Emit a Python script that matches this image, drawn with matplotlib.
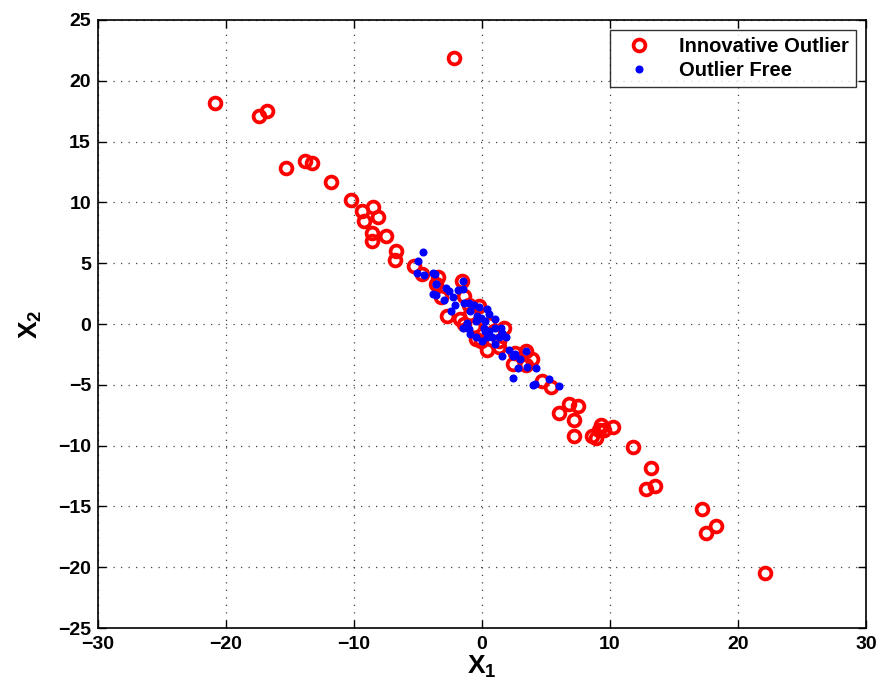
import matplotlib
matplotlib.use("Agg")
import matplotlib.pyplot as plt

plt.rcParams["font.family"] = ["Liberation Sans", "DejaVu Sans"]
plt.rcParams["mathtext.fontset"] = "custom"
plt.rcParams["mathtext.bf"] = "Liberation Sans:bold"
plt.rcParams["mathtext.rm"] = "Liberation Sans:bold"

# Innovative outlier series (red rings)
io_x = [-2.2, -20.85, -17.4, -16.8, -15.3, -13.8, -13.3, -11.8, -10.2, -9.4,
        -8.5, -8.1, -9.2, -8.6, -8.6, -7.5, -6.7, -6.8, -5.3, -4.7,
        -3.4, -3.6, -1.6, -3.2, -1.4, -2.7, -1.7, -0.9, -0.2, -1.0,
        -0.1, 0.4, 1.3, 1.7, 1.3, 2.4, 2.6, 3.4, 3.4, 3.9,
        -0.5, 0.9, -0.6, 0.55, -1.4, 4.7, 5.4, 6.8, 7.5, 6.0,
        7.2, 7.2, 8.6, 8.9, 9.3, 9.55, 9.1, 10.2, 11.8, 13.2,
        12.8, 13.5, 17.2, 17.5, 18.3, 22.1]
io_y = [21.9, 18.2, 17.1, 17.5, 12.8, 13.4, 13.2, 11.7, 10.2, 9.3,
        9.6, 8.8, 8.5, 7.5, 6.8, 7.2, 6.0, 5.3, 4.75, 4.1,
        3.9, 3.25, 3.5, 2.2, 2.3, 0.65, 0.4, 0.8, 1.5, 1.6,
        -1.4, -2.1, -1.9, -0.3, -1.4, -3.3, -2.35, -2.2, -3.4, -2.9,
        -1.25, -0.6, -0.15, 0.0, 0.0, -4.7, -5.2, -6.6, -6.75, -7.3,
        -7.9, -9.2, -9.2, -9.4, -8.3, -8.7, -8.7, -8.5, -10.1, -11.8,
        -13.6, -13.3, -15.2, -17.2, -16.6, -20.5]

# Outlier free series (blue dots)
of_x = [-4.6, -5.0, -5.1, -4.5, -3.8, -3.6, -3.8, -2.8, -2.6, -3.0,
        -2.3, -1.9, -1.5, -2.4, -2.1, -1.4, -1.0, -0.6, -0.2, -0.9,
        -0.4, -0.1, 0.55, -1.5, -1.0, -0.9, -0.5, 0.15, 0.25, 0.55,
        0.8, 1.05, 1.05, 1.45, 1.6, 1.3, 1.85, 1.05, 0.4, 0.0,
        2.1, 2.4, 1.6, 2.6, 3.4, 3.0, 2.8, 3.55, 4.2, 2.4,
        4.1, 5.2, 6.0, -1.15, 0.2, -0.5, 0.4, -3.7, -3.6, -1.5,
        -3.6, 4.0]
of_y = [5.9, 5.2, 4.2, 4.0, 4.2, 3.3, 2.5, 3.0, 2.7, 2.0,
        2.2, 2.8, 2.9, 1.1, 1.55, 1.75, 1.75, 1.55, 1.4, 1.05,
        0.65, 0.5, 0.85, -0.35, -0.45, -0.85, -1.1, -0.3, 0.25, -0.6,
        -1.1, 0.4, -0.3, -0.3, -0.7, -1.1, -1.1, -1.65, -1.1, -1.4,
        -2.1, -2.6, -2.6, -2.5, -2.2, -2.9, -3.6, -3.5, -3.6, -4.4,
        -4.9, -4.5, -5.1, 0.1, -0.55, 0.25, 1.2, 4.15, 3.3, 3.5,
        2.4, -5.0]

fig = plt.figure(figsize=(8.82, 6.85), dpi=100)
ax = fig.add_axes([0.111, 0.083, 0.871, 0.888])

ax.plot(io_x, io_y, "o", ls="none", mfc="none", mec="red", ms=8.5, mew=2.7,
        label="Innovative Outlier")
ax.plot(of_x, of_y, "o", ls="none", color="blue", ms=4.8,
        label="Outlier Free")

ax.set_xlim(-30, 30)
ax.set_ylim(-25, 25)
ax.set_xticks(range(-30, 31, 10))
ax.set_yticks(range(-25, 26, 5))
ax.grid(True, ls=(0, (1, 5)), color="#444444", lw=0.9)
ax.tick_params(direction="in", top=True, right=True, length=6, width=1,
               labelsize=14)
ax.tick_params(axis="x", pad=6)
ax.tick_params(axis="y", pad=5)
for lab in ax.get_xticklabels() + ax.get_yticklabels():
    lab.set_fontweight("bold")
for sp in ax.spines.values():
    sp.set_linewidth(1.2)

ax.set_xlabel(r"$\mathbf{X_1}$", fontsize=19, labelpad=0)
ax.set_ylabel(r"$\mathbf{X_2}$", fontsize=19, labelpad=10)

leg = ax.legend(loc="upper right", fontsize=14.5, frameon=True, fancybox=False,
                edgecolor="black", borderaxespad=0.5, handletextpad=0.9,
                handlelength=2.2, borderpad=0.35, labelspacing=0.25)
leg.get_frame().set_linewidth(1.0)
for t in leg.get_texts():
    t.set_fontweight("bold")

fig.savefig("out.png", dpi=100)
